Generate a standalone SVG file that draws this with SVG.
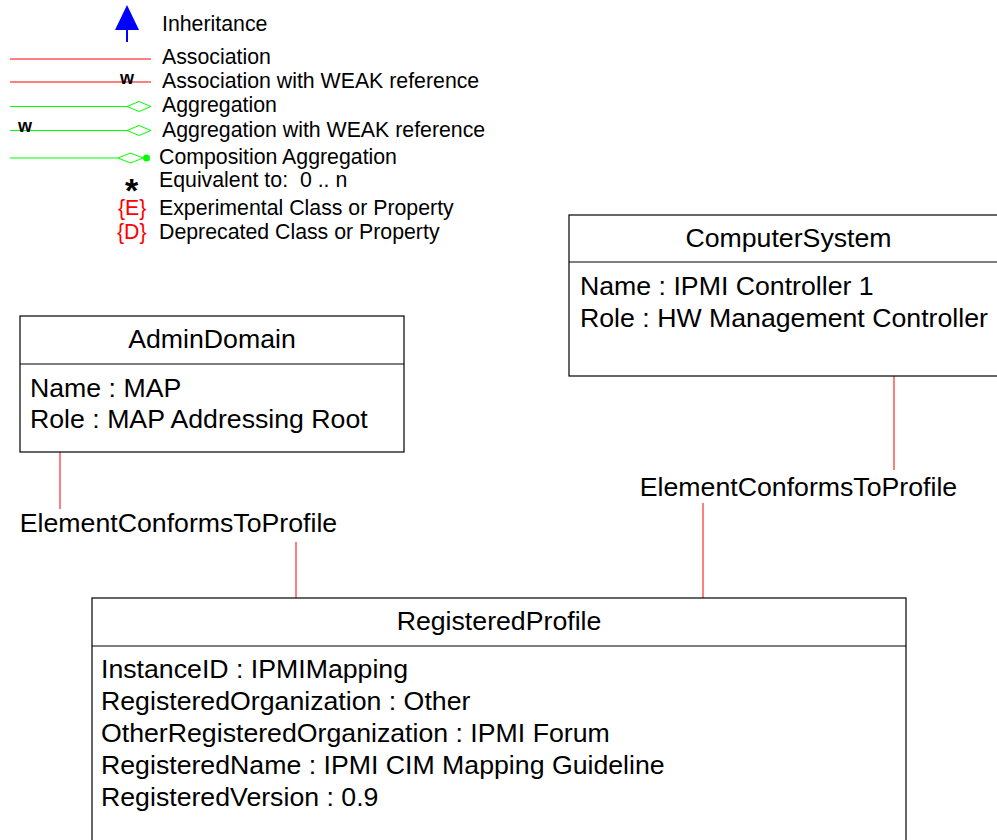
<svg xmlns="http://www.w3.org/2000/svg" width="997" height="840" viewBox="0 0 997 840">
<style>
.t{font-family:"Liberation Sans",Arial,sans-serif;fill:#000}
.lg{font-size:21.3px}
.bx{font-size:26.7px}
.box{fill:#fff;stroke:#000;stroke-width:1.2}
.div{stroke:#000;stroke-width:1.2}
.assoc{stroke:#ff0000;stroke-width:1;fill:none}
.agg{stroke:#00ff00;stroke-width:1;fill:none}
.red{fill:#ff0000}
</style>
<rect width="997" height="840" fill="#fff"/>
<g id="legend">
  <polygon points="115,30 139,30 127,5" fill="#0000ff"/>
  <line x1="127" y1="30" x2="127" y2="42" stroke="#0000ff" stroke-width="2"/>
  <text class="t lg" x="162" y="30.5">Inheritance</text>
  <line class="assoc" x1="10" y1="59" x2="151" y2="59"/>
  <text class="t lg" x="162" y="64">Association</text>
  <line class="assoc" x1="10" y1="82" x2="151" y2="82"/>
  <text class="t" x="120" y="84" font-size="18" font-weight="bold">w</text>
  <text class="t lg" x="162" y="88">Association with WEAK reference</text>
  <line class="agg" x1="10" y1="106.5" x2="127" y2="106.5"/>
  <polygon class="agg" points="127,106.5 139,101.5 151,106.5 139,111.5"/>
  <text class="t lg" x="162" y="111.5">Aggregation</text>
  <line class="agg" x1="10" y1="130.5" x2="127" y2="130.5"/>
  <polygon class="agg" points="127,130.5 139,125.5 151,130.5 139,135.5"/>
  <text class="t" x="18" y="132" font-size="18" font-weight="bold">w</text>
  <text class="t lg" x="162" y="137">Aggregation with WEAK reference</text>
  <line class="agg" x1="10" y1="158" x2="118" y2="158"/>
  <polygon class="agg" points="118,158 130.5,153 143,158 130.5,163"/>
  <circle cx="146.5" cy="158" r="3.5" fill="#00ff00"/>
  <text class="t lg" x="159" y="163.5">Composition Aggregation</text>
  <text class="t" x="131.5" y="202" font-size="34" font-weight="bold" text-anchor="middle">*</text>
  <text class="t lg" x="159" y="187" xml:space="preserve">Equivalent to:  0 .. n</text>
  <text class="t lg red" x="118" y="215">{E}</text>
  <text class="t lg" x="159" y="215">Experimental Class or Property</text>
  <text class="t lg red" x="117" y="239">{D}</text>
  <text class="t lg" x="159" y="239">Deprecated Class or Property</text>
</g>
<g id="connectors">
  <line class="assoc" x1="60" y1="452" x2="60" y2="509"/>
  <line class="assoc" x1="296" y1="542" x2="296" y2="598"/>
  <text class="t bx" x="178.5" y="532" text-anchor="middle">ElementConformsToProfile</text>
  <line class="assoc" x1="894" y1="376" x2="894" y2="470"/>
  <line class="assoc" x1="703" y1="503" x2="703" y2="598"/>
  <text class="t bx" x="798.5" y="496" text-anchor="middle">ElementConformsToProfile</text>
</g>
<g id="AdminDomain">
  <rect class="box" x="20" y="316" width="384" height="136"/>
  <line class="div" x1="20" y1="364" x2="404" y2="364"/>
  <text class="t bx" x="212" y="348" text-anchor="middle">AdminDomain</text>
  <text class="t bx" x="30" y="397">Name : MAP</text>
  <text class="t bx" x="30" y="428">Role : MAP Addressing Root</text>
</g>
<g id="ComputerSystem">
  <rect class="box" x="569" y="215" width="440" height="161"/>
  <line class="div" x1="569" y1="262" x2="1009" y2="262"/>
  <text class="t bx" x="788.5" y="247" text-anchor="middle">ComputerSystem</text>
  <text class="t bx" x="580" y="295">Name : IPMI Controller 1</text>
  <text class="t bx" x="580" y="327">Role : HW Management Controller</text>
</g>
<g id="RegisteredProfile">
  <rect class="box" x="92" y="598" width="814" height="260"/>
  <line class="div" x1="92" y1="646" x2="906" y2="646"/>
  <text class="t bx" x="499" y="630" text-anchor="middle">RegisteredProfile</text>
  <text class="t bx" x="101" y="678">InstanceID : IPMIMapping</text>
  <text class="t bx" x="101" y="710">RegisteredOrganization : Other</text>
  <text class="t bx" x="101" y="742">OtherRegisteredOrganization : IPMI Forum</text>
  <text class="t bx" x="101" y="774">RegisteredName : IPMI CIM Mapping Guideline</text>
  <text class="t bx" x="101" y="806">RegisteredVersion : 0.9</text>
</g>
</svg>
